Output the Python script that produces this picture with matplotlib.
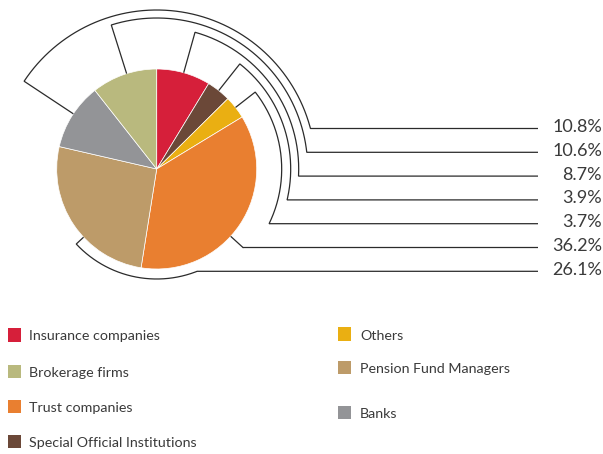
import numpy as np
import matplotlib
matplotlib.use("Agg")
import matplotlib.pyplot as plt

# Slices in clockwise order starting from 12 o'clock
categories = ["Insurance companies", "Special Official Institutions", "Others",
              "Trust companies", "Pension Fund Managers", "Banks", "Brokerage firms"]
shares = [8.7, 3.9, 3.7, 36.2, 26.1, 10.8, 10.6]
colors = ["#D61F3A", "#6B4838", "#EAAF12", "#E97F30", "#BD9B69", "#939497", "#B9B97E"]

# Order of the value labels on the right, top to bottom
label_order = ["Banks", "Brokerage firms", "Insurance companies",
               "Special Official Institutions", "Others", "Trust companies",
               "Pension Fund Managers"]

# Legend columns
legend_left = ["Insurance companies", "Brokerage firms", "Trust companies",
               "Special Official Institutions"]
legend_right = ["Others", "Pension Fund Managers", "Banks"]

W, H = 603, 454
fig = plt.figure(figsize=(W / 100, H / 100), dpi=100)
ax = fig.add_axes([0, 0, 1, 1])

cx, cy = 156.7, H - 169.0
R = 100.0

ax.pie(shares, colors=colors, startangle=90, counterclock=False,
       center=(cx, cy), radius=R,
       wedgeprops=dict(edgecolor="white", linewidth=0.5))
ax.set_xlim(0, W)
ax.set_ylim(0, H)
ax.set_aspect("equal")
ax.axis("off")


def wrap(a):
    """Bring an angle in degrees into (-180, 180]."""
    return (a + 180) % 360 - 180


# Mid angles of the slices (degrees, math convention)
cum = np.cumsum([0] + shares)
mid = {c: wrap(90 - 3.6 * (cum[i] + cum[i + 1]) / 2) for i, c in enumerate(categories)}

# Leader geometry: anchor angle on the rim and radius of the routing arc
anchor = dict(mid)
anchor["Banks"] = 146.5
anchor["Brokerage firms"] = 107.5
anchor["Trust companies"] = -42.3
anchor["Pension Fund Managers"] = -137.0
route_r = {"Banks": 159, "Brokerage firms": 151, "Insurance companies": 142,
           "Special Official Institutions": 134, "Others": 125,
           "Trust companies": 117, "Pension Fund Managers": 110}

line_kw = dict(color="#2b2b2b", lw=0.9, solid_capstyle="butt", solid_joinstyle="miter")
x_end = 538
y0, step = 128.5, 23.8
for i, c in enumerate(label_order):
    ylab = H - (y0 + i * step)
    a0 = np.radians(anchor[c])
    r = route_r[c]
    a1 = np.arcsin(np.clip((ylab - cy) / r, -1, 1))
    # radial stub
    xs = [cx + R * np.cos(a0), cx + r * np.cos(a0)]
    ys = [cy + R * np.sin(a0), cy + r * np.sin(a0)]
    # routing arc
    t = np.linspace(a0, a1, 200)
    xs += list(cx + r * np.cos(t))
    ys += list(cy + r * np.sin(t))
    # horizontal run to the label
    xs.append(x_end)
    ys.append(ylab)
    ax.plot(xs, ys, **line_kw)
    val = shares[categories.index(c)]
    ax.text(602, ylab + 1.5, f"{val:.1f}%", ha="right", va="center",
            fontsize=13, color="#3a3a3a", family="Lato")

# Legend
col_of = dict(zip(categories, colors))
left_rows = [335, 371.7, 406.7, 441.3]
right_rows = [334, 367.5, 412.5]
sq = 13.5
for names, rows, xsq, xt in [(legend_left, left_rows, 7.5, 29),
                             (legend_right, right_rows, 337.5, 360)]:
    for name, yc in zip(names, rows):
        ax.add_patch(plt.Rectangle((xsq, H - yc - sq / 2), sq, sq,
                                   facecolor=col_of[name], edgecolor="none"))
        ax.text(xt, H - yc - 1.5, name, ha="left", va="center",
                fontsize=10.3, color="#3a3a3a", family="Lato")

fig.savefig("out.png", dpi=100)
